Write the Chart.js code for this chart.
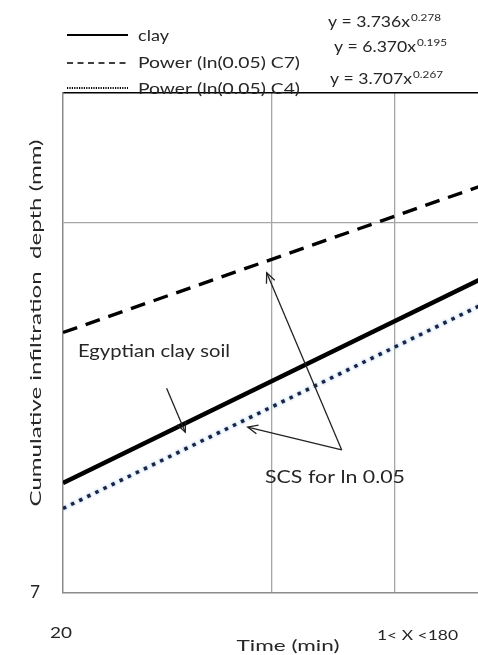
<!DOCTYPE html>
<html>
<head>
<meta charset="utf-8">
<title>Cumulative infiltration</title>
<script src="https://cdn.jsdelivr.net/npm/chart.js@4.4.0/dist/chart.umd.min.js"></script>
<style>
	html, body { margin: 0; padding: 0; background: #fff; }
	canvas { display: block; }
</style>
</head>
<body>
<canvas id="infilChart" width="478" height="655"></canvas>
<script>
// time (min), read at the left and right edge of the plot
const timeValues = [20, 80];
// cumulative infiltration depth (mm)
const clayDepth = [8.6, 12.6];
const c7Depth = [11.4, 15.0];
const c4Depth = [8.2, 12.0];
const seriesNames = ['clay', 'Power (ln(0.05) C7)', 'Power (ln(0.05) C4)'];
const equations = [['y = 3.736x', '0.278'], ['y = 6.370x', '0.195'], ['y = 3.707x', '0.267']];
const xGridTicks = [40, 60];
const yGridTicks = [14];
const xRange = [20, 79.2];
const yRange = [7, 17.85];

function toPoints(ys) {
	return timeValues.map(function (t, i) { return { x: t, y: ys[i] }; });
}

const FONT = 'Lato, "Open Sans", sans-serif';
const TEXT_COLOR = '#262626';

// draw text stretched to a given width (the picture is stretched sideways)
function fitText(ctx, str, x, y, size, width, align) {
	ctx.save();
	ctx.font = size + 'px ' + FONT;
	ctx.textAlign = align || 'left';
	ctx.textBaseline = 'middle';
	var w = ctx.measureText(str).width;
	ctx.translate(x, y);
	ctx.scale(width / w, 1);
	ctx.fillText(str, 0, 0);
	ctx.restore();
}

function arrow(ctx, x1, y1, x2, y2) {
	ctx.beginPath();
	ctx.moveTo(x1, y1);
	ctx.lineTo(x2, y2);
	ctx.stroke();
	var a = Math.atan2(y2 - y1, x2 - x1), h = 11, w = 0.42;
	ctx.beginPath();
	ctx.moveTo(x2 - h * Math.cos(a - w), y2 - h * Math.sin(a - w));
	ctx.lineTo(x2, y2);
	ctx.lineTo(x2 - h * Math.cos(a + w), y2 - h * Math.sin(a + w));
	ctx.stroke();
}

// light blue glow under the dotted C4 line
const c4Halo = {
	id: 'c4Halo',
	beforeDatasetDraw: function (chart, args) {
		if (args.index === 2) {
			chart.ctx.save();
			chart.ctx.shadowColor = 'rgba(80,150,225,0.8)';
			chart.ctx.shadowBlur = 3;
		}
	},
	afterDatasetDraw: function (chart, args) {
		if (args.index === 2) chart.ctx.restore();
	}
};

const annotations = {
	id: 'annotations',
	afterDraw: function (chart) {
		const ctx = chart.ctx;
		const xs = chart.scales.x, ys = chart.scales.y;
		ctx.save();
		ctx.fillStyle = TEXT_COLOR;

		// legend (top left)
		ctx.strokeStyle = '#000';
		ctx.lineWidth = 2;
		ctx.setLineDash([]);
		ctx.beginPath(); ctx.moveTo(67, 35); ctx.lineTo(128, 35); ctx.stroke();
		ctx.lineWidth = 1.6;
		ctx.setLineDash([6, 4.5]);
		ctx.beginPath(); ctx.moveTo(67, 63); ctx.lineTo(128, 63); ctx.stroke();
		ctx.lineWidth = 2;
		ctx.setLineDash([1.2, 1.2]);
		ctx.beginPath(); ctx.moveTo(67, 88); ctx.lineTo(128, 88); ctx.stroke();
		ctx.setLineDash([]);
		fitText(ctx, seriesNames[0], 138, 36, 15, 31);
		fitText(ctx, seriesNames[1], 138, 63, 15, 162);
		fitText(ctx, seriesNames[2], 138, 89, 15, 162);

		// trend line equations
		var eqPos = [[328, 22], [334, 47], [330, 79]];
		equations.forEach(function (eq, i) {
			fitText(ctx, eq[0], eqPos[i][0], eqPos[i][1], 15, 82);
			fitText(ctx, eq[1], eqPos[i][0] + 83, eqPos[i][1] - 4, 9, 30);
		});

		// axis texts
		ctx.save();
		ctx.translate(36, 323);
		ctx.rotate(-Math.PI / 2);
		fitText(ctx, 'Cumulative infiltration  depth (mm)', 0, 0, 16, 367, 'center');
		ctx.restore();
		fitText(ctx, '7', 35, 593, 17, 10, 'center');
		fitText(ctx, '20', 61, 633, 16, 22, 'center');
		fitText(ctx, 'Time (min)', 288, 646, 16, 103, 'center');
		fitText(ctx, '1< X <180', 377, 636, 13, 81);

		// callouts
		fitText(ctx, 'Egyptian clay soil', 78, 352, 17, 152);
		fitText(ctx, 'SCS for ln 0.05', 265, 478, 17, 140);
		ctx.strokeStyle = '#222';
		ctx.lineWidth = 1.3;
		var px = function (t) { return xs.getPixelForValue(t); };
		var py = function (d) { return ys.getPixelForValue(d); };
		arrow(ctx, px(28.2), py(10.27), px(30.0), py(9.46));
		arrow(ctx, px(50.4), py(9.15), px(39.3), py(12.75));
		arrow(ctx, px(50.4), py(9.15), px(36.9), py(9.55));
		ctx.restore();
	}
};

const ctx = document.getElementById('infilChart');
new Chart(ctx, {
	type: 'line',
	data: {
		datasets: [{
			label: seriesNames[0],
			data: toPoints(clayDepth),
			borderColor: '#000',
			borderWidth: 4.5,
			pointRadius: 0,
			tension: 0
		}, {
			label: seriesNames[1],
			data: toPoints(c7Depth),
			borderColor: '#000',
			borderWidth: 3.4,
			borderDash: [15, 9],
			pointRadius: 0,
			tension: 0
		}, {
			label: seriesNames[2],
			data: toPoints(c4Depth),
			borderColor: '#1b2440',
			borderWidth: 3.5,
			borderDash: [3.5, 5.5],
			pointRadius: 0,
			tension: 0
		}]
	},
	options: {
		responsive: false,
		animation: false,
		devicePixelRatio: 1,
		layout: {
			padding: { left: 63, top: 93, right: 0, bottom: 62 }
		},
		scales: {
			x: {
				type: 'logarithmic',
				position: 'bottom',
				min: xRange[0],
				max: xRange[1],
				afterBuildTicks: function (s) {
					s.ticks = xGridTicks.map(function (v) { return { value: v }; });
				},
				ticks: { display: false },
				grid: { color: '#a6a6a6', lineWidth: 1.3, drawTicks: false },
				border: { color: '#8c8c8c', width: 1.5 }
			},
			x2: {
				type: 'logarithmic',
				position: 'top',
				min: xRange[0],
				max: xRange[1],
				ticks: { display: false },
				grid: { display: false, drawTicks: false },
				border: { color: '#000', width: 1.5 }
			},
			y: {
				type: 'logarithmic',
				min: yRange[0],
				max: yRange[1],
				afterBuildTicks: function (s) {
					s.ticks = yGridTicks.map(function (v) { return { value: v }; });
				},
				ticks: { display: false },
				grid: { color: '#a6a6a6', lineWidth: 1.3, drawTicks: false },
				border: { color: '#8c8c8c', width: 1.5 }
			}
		},
		plugins: {
			legend: { display: false },
			tooltip: { enabled: false }
		}
	},
	plugins: [c4Halo, annotations]
});
</script>
</body>
</html>
